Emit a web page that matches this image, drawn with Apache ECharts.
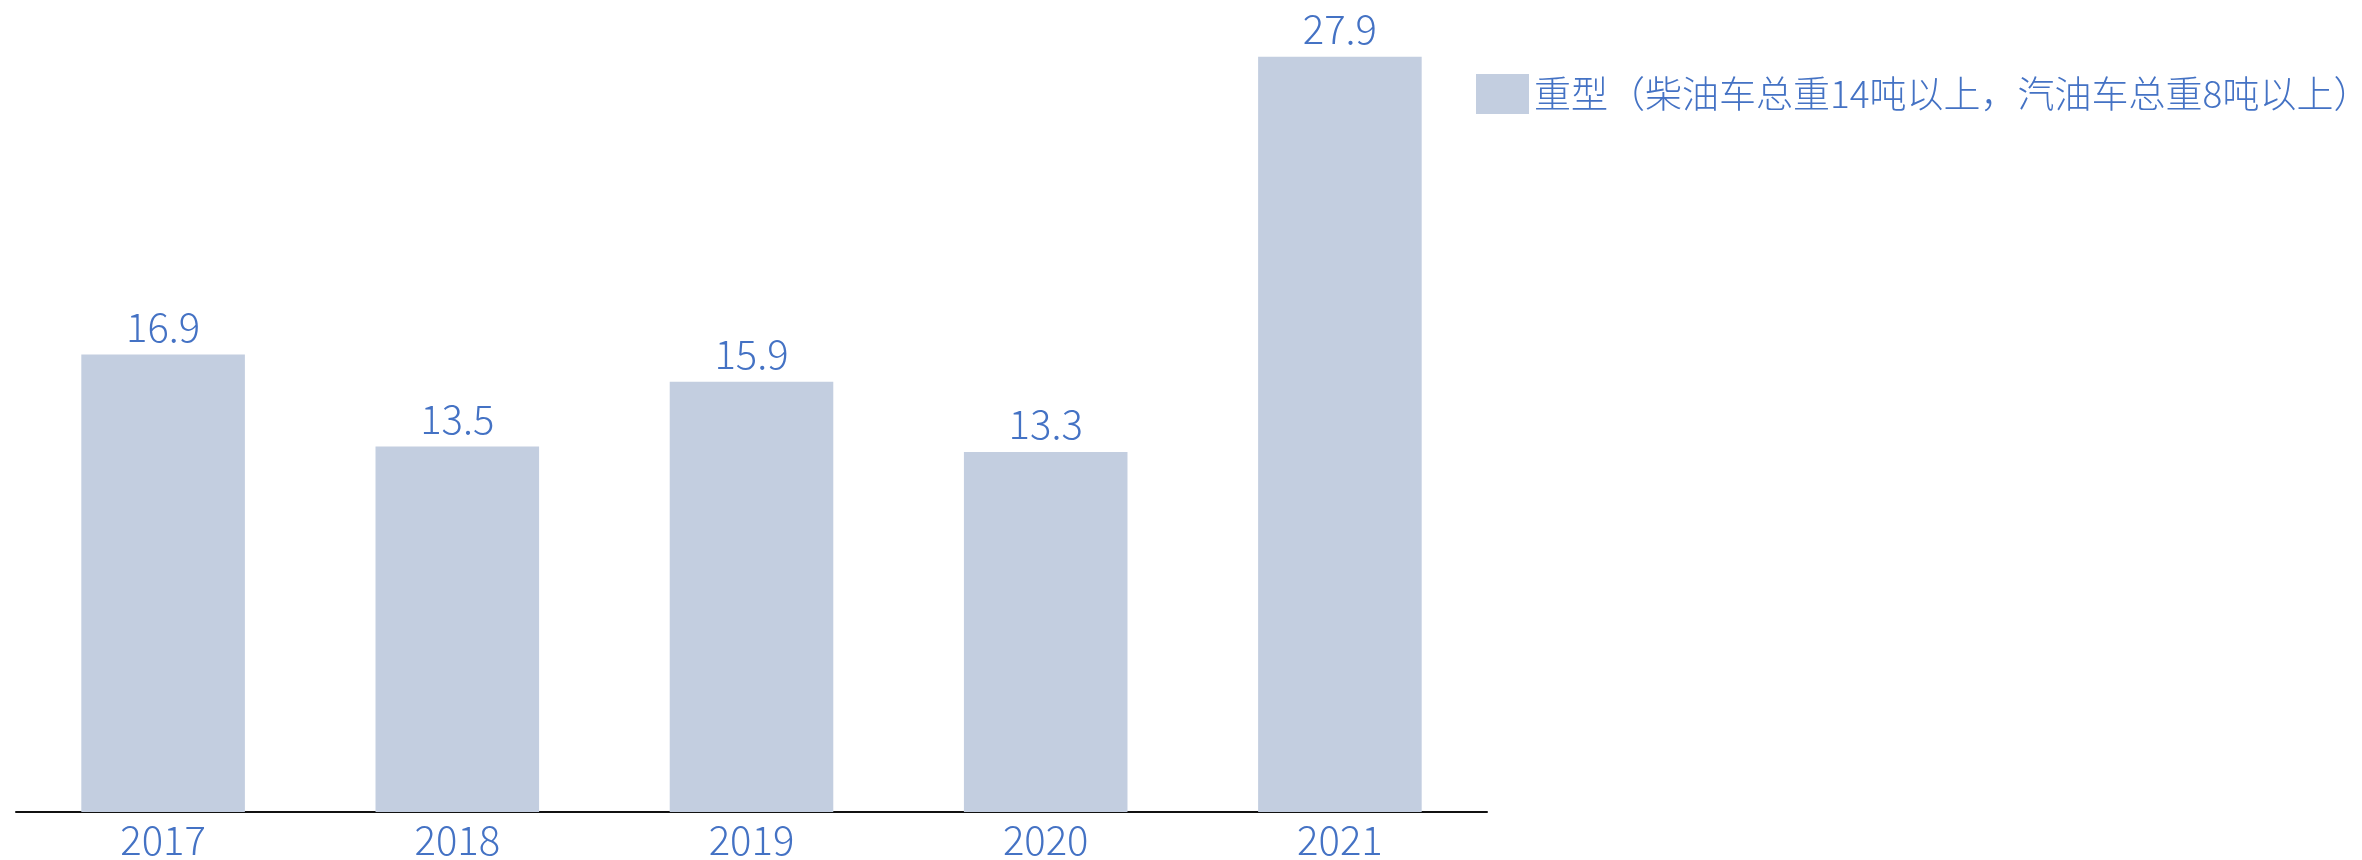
<!DOCTYPE html>
<html>
<head>
<meta charset="utf-8">
<script src="https://cdn.jsdelivr.net/npm/echarts@6/dist/echarts.min.js"></script>
<style>
  html, body { margin: 0; padding: 0; background: #ffffff; }
  #chart { width: 2362px; height: 860px; }
</style>
</head>
<body>
<div id="chart"></div>
<script>
// Heavy-duty vehicle figures by year
const years = ['2017', '2018', '2019', '2020', '2021'];
const heavyValues = [16.9, 13.5, 15.9, 13.3, 27.9];
const seriesName = '重型（柴油车总重14吨以上，汽油车总重8吨以上）';

const FONT = "'Noto Sans CJK SC', 'Noto Sans', sans-serif";
const TEXT_BLUE = '#4472C4';
const BAR_COLOR = '#C3CEE0';

const chart = echarts.init(document.getElementById('chart'));
chart.setOption({
  animation: false,
  backgroundColor: '#ffffff',
  grid: { left: 16, right: 875, top: 0, bottom: 48, containLabel: false },
  legend: {
    data: [seriesName],
    left: 1471,
    top: 69,
    itemWidth: 53,
    itemHeight: 40,
    itemGap: 10,
    icon: 'rect',
    textStyle: { color: TEXT_BLUE, fontSize: 37, fontFamily: FONT, fontWeight: 300, padding: [0, 0, 0, 0] }
  },
  xAxis: {
    type: 'category',
    data: years,
    axisLine: { show: true, lineStyle: { color: '#111111', width: 2 } },
    axisTick: { show: false },
    axisLabel: { color: TEXT_BLUE, fontSize: 40, fontFamily: FONT, fontWeight: 300, margin: 8 }
  },
  yAxis: {
    type: 'value',
    min: 0,
    max: 30,
    show: false,
    splitLine: { show: false }
  },
  series: [{
    name: seriesName,
    type: 'bar',
    data: heavyValues,
    barWidth: '55.6%',
    itemStyle: { color: BAR_COLOR },
    label: {
      show: true,
      position: 'top',
      distance: 8,
      color: TEXT_BLUE,
      fontSize: 40,
      fontFamily: FONT,
      fontWeight: 300,
      formatter: p => p.value.toFixed(1)
    }
  }]
});
</script>
</body>
</html>
